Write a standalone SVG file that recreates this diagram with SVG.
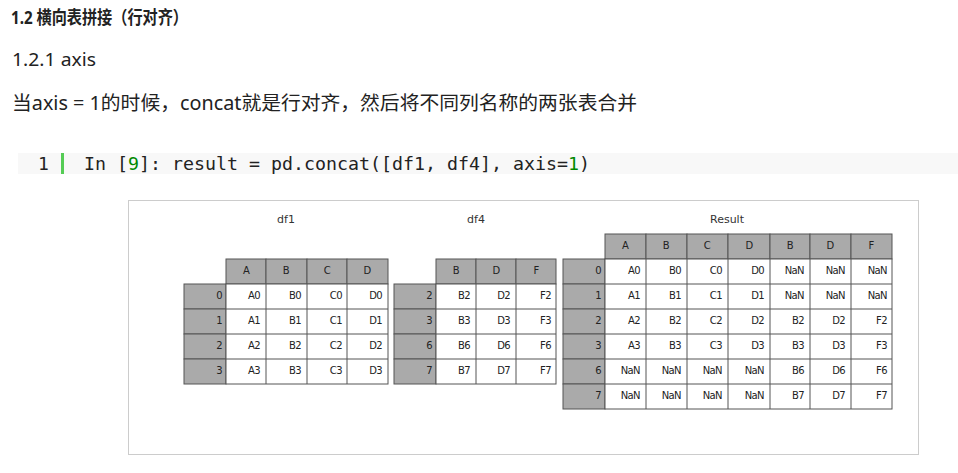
<svg xmlns="http://www.w3.org/2000/svg" width="958" height="473" viewBox="0 0 958 473">
<style>
.t{font-family:"Noto Sans","Noto Sans CJK SC",sans-serif;fill:#222}
.c{font-family:"DejaVu Sans Mono","Liberation Mono",monospace;font-size:18px;fill:#222}
.h{fill:#aaa;stroke:#555;stroke-width:1}
.d{fill:#fff;stroke:#555;stroke-width:1}
.l{font-family:"DejaVu Sans",sans-serif;font-size:10px;fill:#222;letter-spacing:-0.6px}
.tt{font-family:"DejaVu Sans",sans-serif;font-size:11px;fill:#333}
</style>
<rect width="958" height="473" fill="#fff"/>
<text class="t" x="11" y="24" font-size="18" font-weight="bold" textLength="177" lengthAdjust="spacingAndGlyphs">1.2 横向表拼接（行对齐）</text>
<text class="t" x="12" y="66" font-size="18" fill="#333" textLength="84" lengthAdjust="spacingAndGlyphs">1.2.1 axis</text>
<text class="t" x="12" y="110" font-size="19" fill="#333" textLength="625" lengthAdjust="spacingAndGlyphs">当axis = 1的时候，concat就是行对齐，然后将不同列名称的两张表合并</text>
<rect x="18" y="153" width="940" height="21" fill="#f8f8f8"/>
<text class="c" x="38" y="170" fill="#99a">1</text>
<rect x="61" y="153" width="3" height="21" fill="#5c5"/>
<text class="c" x="84" y="170" textLength="506" lengthAdjust="spacingAndGlyphs">In [<tspan fill="#080">9</tspan>]: result = pd.concat([df1, df4], axis=<tspan fill="#080">1</tspan>)</text>
<rect x="128.5" y="200.5" width="790" height="254" fill="#fff" stroke="#ccc"/>
<g id="df1">
<text class="tt" x="286" y="223" text-anchor="middle">df1</text>
<g>
<rect class="h" x="226" y="259" width="40" height="25"/><rect class="h" x="266" y="259" width="41" height="25"/><rect class="h" x="307" y="259" width="40" height="25"/><rect class="h" x="347" y="259" width="41" height="25"/>
<rect class="h" x="184" y="284" width="42" height="25"/><rect class="h" x="184" y="309" width="42" height="25"/><rect class="h" x="184" y="334" width="42" height="25"/><rect class="h" x="184" y="359" width="42" height="25"/>
</g>
<g>
<rect class="d" x="226" y="284" width="162" height="100"/>
<path d="M266 284V384M307 284V384M347 284V384M226 309H388M226 334H388M226 359H388" stroke="#555" fill="none"/>
</g>
<g class="l" text-anchor="middle">
<text x="246" y="274">A</text><text x="286" y="274">B</text><text x="327" y="274">C</text><text x="367" y="274">D</text>
</g>
<g class="l" text-anchor="end">
<text x="222" y="299">0</text><text x="222" y="324">1</text><text x="222" y="349">2</text><text x="222" y="374">3</text>
<text x="260" y="299">A0</text><text x="301" y="299">B0</text><text x="342" y="299">C0</text><text x="382" y="299">D0</text>
<text x="260" y="324">A1</text><text x="301" y="324">B1</text><text x="342" y="324">C1</text><text x="382" y="324">D1</text>
<text x="260" y="349">A2</text><text x="301" y="349">B2</text><text x="342" y="349">C2</text><text x="382" y="349">D2</text>
<text x="260" y="374">A3</text><text x="301" y="374">B3</text><text x="342" y="374">C3</text><text x="382" y="374">D3</text>
</g>
</g>
<g id="df4">
<text class="tt" x="476" y="223" text-anchor="middle">df4</text>
<rect class="h" x="436" y="259" width="40" height="25"/><rect class="h" x="476" y="259" width="40" height="25"/><rect class="h" x="516" y="259" width="40" height="25"/>
<rect class="h" x="394" y="284" width="42" height="25"/><rect class="h" x="394" y="309" width="42" height="25"/><rect class="h" x="394" y="334" width="42" height="25"/><rect class="h" x="394" y="359" width="42" height="25"/>
<rect class="d" x="436" y="284" width="120" height="100"/>
<path d="M476 284V384M516 284V384M436 309H556M436 334H556M436 359H556" stroke="#555" fill="none"/>
<g class="l" text-anchor="middle"><text x="456" y="274">B</text><text x="496" y="274">D</text><text x="536" y="274">F</text></g>
<g class="l" text-anchor="end">
<text x="432" y="299">2</text><text x="432" y="324">3</text><text x="432" y="349">6</text><text x="432" y="374">7</text>
<text x="470" y="299">B2</text><text x="510" y="299">D2</text><text x="551" y="299">F2</text>
<text x="470" y="324">B3</text><text x="510" y="324">D3</text><text x="551" y="324">F3</text>
<text x="470" y="349">B6</text><text x="510" y="349">D6</text><text x="551" y="349">F6</text>
<text x="470" y="374">B7</text><text x="510" y="374">D7</text><text x="551" y="374">F7</text>
</g>
</g>
<g id="result">
<text class="tt" x="727" y="223" text-anchor="middle">Result</text>
<rect class="h" x="605" y="234" width="41" height="25"/><rect class="h" x="646" y="234" width="41" height="25"/><rect class="h" x="687" y="234" width="41" height="25"/><rect class="h" x="728" y="234" width="42" height="25"/><rect class="h" x="770" y="234" width="40" height="25"/><rect class="h" x="810" y="234" width="41" height="25"/><rect class="h" x="851" y="234" width="41" height="25"/>
<rect class="h" x="563" y="259" width="42" height="25"/><rect class="h" x="563" y="284" width="42" height="25"/><rect class="h" x="563" y="309" width="42" height="25"/><rect class="h" x="563" y="334" width="42" height="25"/><rect class="h" x="563" y="359" width="42" height="25"/><rect class="h" x="563" y="384" width="42" height="25"/>
<g>
<rect class="d" x="605" y="259" width="287" height="150"/>
<path d="M646 259V409M687 259V409M728 259V409M770 259V409M810 259V409M851 259V409M605 284H892M605 309H892M605 334H892M605 359H892M605 384H892" stroke="#555" fill="none"/>
</g>
<g class="l" text-anchor="middle"><text x="625" y="249">A</text><text x="666" y="249">B</text><text x="707" y="249">C</text><text x="749" y="249">D</text><text x="790" y="249">B</text><text x="830" y="249">D</text><text x="871" y="249">F</text></g>
<g class="l" text-anchor="end">
<text x="601" y="274">0</text><text x="601" y="299">1</text><text x="601" y="324">2</text><text x="601" y="349">3</text><text x="601" y="374">6</text><text x="601" y="399">7</text>
<text x="640" y="274">A0</text><text x="681" y="274">B0</text><text x="722" y="274">C0</text><text x="764" y="274">D0</text><text x="804" y="274">NaN</text><text x="845" y="274">NaN</text><text x="887" y="274">NaN</text>
<text x="640" y="299">A1</text><text x="681" y="299">B1</text><text x="722" y="299">C1</text><text x="764" y="299">D1</text><text x="804" y="299">NaN</text><text x="845" y="299">NaN</text><text x="887" y="299">NaN</text>
<text x="640" y="324">A2</text><text x="681" y="324">B2</text><text x="722" y="324">C2</text><text x="764" y="324">D2</text><text x="804" y="324">B2</text><text x="845" y="324">D2</text><text x="887" y="324">F2</text>
<text x="640" y="349">A3</text><text x="681" y="349">B3</text><text x="722" y="349">C3</text><text x="764" y="349">D3</text><text x="804" y="349">B3</text><text x="845" y="349">D3</text><text x="887" y="349">F3</text>
<text x="640" y="374">NaN</text><text x="681" y="374">NaN</text><text x="722" y="374">NaN</text><text x="764" y="374">NaN</text><text x="804" y="374">B6</text><text x="845" y="374">D6</text><text x="887" y="374">F6</text>
<text x="640" y="399">NaN</text><text x="681" y="399">NaN</text><text x="722" y="399">NaN</text><text x="764" y="399">NaN</text><text x="804" y="399">B7</text><text x="845" y="399">D7</text><text x="887" y="399">F7</text>
</g>
</g>
</svg>
